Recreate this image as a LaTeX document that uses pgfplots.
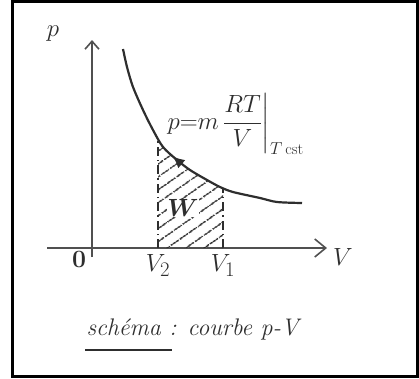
\documentclass[border=0pt]{standalone}
\usepackage{amsmath}
\usepackage{fontspec}
\usepackage{pgfplots}
\pgfplotsset{compat=1.18}
\usetikzlibrary{patterns.meta,decorations.markings,arrows.meta}

\definecolor{ink}{HTML}{2E2E2E}
\definecolor{axisgray}{HTML}{505050}

\begin{document}
\begin{tikzpicture}
\begin{axis}[
  x=1pt, y=1pt,
  xmin=-45, xmax=235, ymin=-9, ymax=208,
  axis lines=middle,
  axis line style={line width=1.6pt, axisgray},
  x axis line style={-{Straight Barb[length=11pt,width=18pt,line width=1.6pt]}},
  y axis line style={-{Straight Barb[length=8pt,width=14pt,line width=1.6pt]}},
  xtick={66,131}, xticklabels={$V_2$,$V_1$},
  ytick=\empty,
  major tick length=0pt,
  xticklabel style={font=\fontsize{28}{30}\selectfont, yshift=-3pt, text=ink},
  clip=false,
]
% hatched work area between V2 and V1
\addplot[pattern={Lines[angle=35,distance=10.5pt,line width=1.5pt]}, pattern color=ink, draw=none]
  coordinates {(66,0) (66,110) (71,101) (85,88) (98,78) (115,68) (128,61) (131,60) (131,0)} -- cycle;

% pressure curve, compression from V1 to V2
\addplot[ink, line width=2.2pt, smooth, tension=0.5,
  postaction={decorate},
  decoration={markings, mark=at position 0.46 with {\arrowreversed{Latex[length=12pt,width=11pt]}}}]
  coordinates {(31,199) (35,181) (41,161) (51,138) (61,118) (71,101) (85,88)
    (98,78) (115,68) (128,61) (141,56) (168,50) (185,46) (210,45)};

% bounds of the integral
\addplot[ink, line width=1.3pt, dash pattern=on 9pt off 4pt on 1.5pt off 4pt] coordinates {(66,0) (66,110)};
\addplot[ink, line width=1.3pt, dash pattern=on 9pt off 4pt on 1.5pt off 4pt] coordinates {(131,0) (131,60)};

\node[text=ink, font=\fontsize{28}{30}\selectfont] at (axis cs:-39,214) {$p$};
\node[text=ink, font=\fontsize{34}{36}\selectfont] at (axis cs:251,-9) {$V$};
\node[text=ink, font=\fontsize{24}{26}\selectfont] at (axis cs:-13,-11) {$\boldsymbol{0}$};
\node[text=ink, font=\fontsize{30}{32}\selectfont, fill=white, inner sep=0.5pt] at (axis cs:91,40) {$\boldsymbol{W}$};
\node[text=ink, font=\fontsize{23}{25}\selectfont, anchor=west] at (axis cs:72,124)
  {$p{=}m\,\dfrac{RT}{V}\bigg|_{T\,\mathrm{cst}}$};
\node[text=ink, font=\fontsize{24}{26}\selectfont\itshape, anchor=base west] at (axis cs:-9,-87)
  {schéma : courbe p-V};
\draw[ink, line width=1.3pt] (axis cs:-7,-102) -- (axis cs:80,-102);

% frame
\draw[black, line width=3pt] (axis cs:-79,-128.5) rectangle (axis cs:325.5,246.5);
\path (axis cs:-92,-130) rectangle (axis cs:327,248);
\end{axis}
\end{tikzpicture}
\end{document}
